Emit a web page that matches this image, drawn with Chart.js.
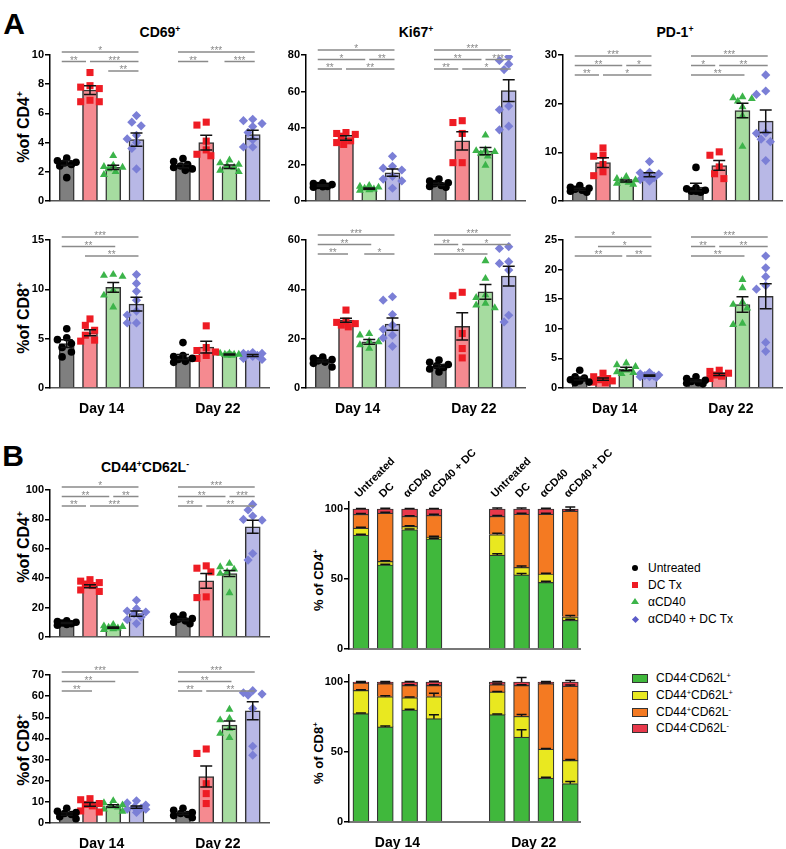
<!DOCTYPE html>
<html>
<head>
<meta charset="utf-8">
<title>T cell activation markers</title>
<script src="https://cdn.jsdelivr.net/npm/chart.js@4.4.1/dist/chart.umd.min.js"></script>
<style>
body { margin: 0; background: #fff; font-family: "Liberation Sans", Arial, sans-serif; }
#page { position: relative; width: 786px; height: 849px; overflow: hidden; }
#page canvas { position: absolute; }
.lbl { position: absolute; font-weight: bold; white-space: nowrap; transform: translate(-50%, -50%); }
.ytitle { position: absolute; font-weight: bold; white-space: nowrap; transform: translate(-50%, -50%) rotate(-90deg); }
sup { font-size: 62%; vertical-align: 0.6em; line-height: 0; }
.leg { position: absolute; font-size: 12px; height: 16px; line-height: 16px; white-space: nowrap; }
.mk { position: absolute; }
.box { position: absolute; width: 14px; height: 7px; border: 1px solid #333; }
</style>
</head>
<body>
<div id="page">
  <div class="lbl" style="left:14px;top:24px;font-size:30px">A</div>
  <div class="lbl" style="left:13px;top:456px;font-size:30px">B</div>
  <div class="lbl" style="left:160px;top:32px;font-size:14px">CD69<sup>+</sup></div>
  <div class="lbl" style="left:416px;top:32px;font-size:14px">Ki67<sup>+</sup></div>
  <div class="lbl" style="left:675px;top:32px;font-size:14px">PD-1<sup>+</sup></div>
  <div class="lbl" style="left:145px;top:467px;font-size:14px">CD44<sup>+</sup>CD62L<sup>-</sup></div>

  <div class="ytitle" style="left:24px;top:127px;font-size:16px">%of CD4<sup>+</sup></div>
  <div class="ytitle" style="left:24px;top:318px;font-size:16px">%of CD8<sup>+</sup></div>
  <div class="ytitle" style="left:24px;top:547px;font-size:16px">%of CD4<sup>+</sup></div>
  <div class="ytitle" style="left:24px;top:750px;font-size:16px">%of CD8<sup>+</sup></div>
  <div class="ytitle" style="left:318px;top:580px;font-size:13px">% of CD4<sup>+</sup></div>
  <div class="ytitle" style="left:318px;top:753px;font-size:13px">% of CD8<sup>+</sup></div>

  <div class="mk" style="left:632px;top:565px;width:6px;height:6px;border-radius:50%;background:#000"></div>
  <div class="leg" style="left:648px;top:560px">Untreated</div>
  <div class="mk" style="left:632px;top:582px;width:6px;height:6px;background:#ee1c24"></div>
  <div class="leg" style="left:648px;top:577px">DC Tx</div>
  <div class="mk" style="left:631px;top:598px;width:0;height:0;border-left:4px solid transparent;border-right:4px solid transparent;border-bottom:6px solid #3cb44a"></div>
  <div class="leg" style="left:648px;top:594px">αCD40</div>
  <div class="mk" style="left:633px;top:617px;width:5px;height:5px;background:#5a5ac8;transform:rotate(45deg)"></div>
  <div class="leg" style="left:648px;top:611px">αCD40 + DC Tx</div>

  <div class="box" style="left:632px;top:674px;background:#40b83c"></div>
  <div class="leg" style="left:656px;top:670px">CD44<sup>-</sup>CD62L<sup>+</sup></div>
  <div class="box" style="left:632px;top:691px;background:#e9e820"></div>
  <div class="leg" style="left:656px;top:687px">CD44<sup>+</sup>CD62L<sup>+</sup></div>
  <div class="box" style="left:632px;top:708px;background:#f47a22"></div>
  <div class="leg" style="left:656px;top:704px">CD44<sup>+</sup>CD62L<sup>-</sup></div>
  <div class="box" style="left:632px;top:724px;background:#e8394b"></div>
  <div class="leg" style="left:656px;top:720px">CD44<sup>-</sup>CD62L<sup>-</sup></div>
</div>

<script>
Chart.defaults.font.family = '"Liberation Sans", Arial, sans-serif';
Chart.defaults.color = '#000';

// groups: Untreated, DC Tx, aCD40, aCD40 + DC Tx at day 14, then the same at day 22
var dayLabels = ['Day 14', 'Day 22'];
var stackNames = ['Untreated', 'DC', 'αCD40', 'αCD40 + DC'];

var cd69Cd4Mean = [2.6, 7.6, 2.3, 4.2, 2.4, 4.0, 2.35, 4.55];
var cd69Cd4Sem = [0.15, 0.3, 0.15, 0.45, 0.12, 0.5, 0.12, 0.3];
var cd69Cd4Pts = [
  [2.95, 2.75, 2.65, 2.6, 2.5, 2.4, 1.6], [8.8, 7.9, 7.8, 7.7, 6.9, 6.8, 6.8],
  [3.1, 2.45, 2.35, 2.3, 2.2, 2.0, 1.8], [5.85, 5.4, 5.15, 4.5, 4.25, 4.0, 3.6, 2.2],
  [2.9, 2.7, 2.5, 2.4, 2.3, 2.2, 2.1], [5.4, 5.2, 4.1, 3.5, 3.2, 3.1],
  [2.8, 2.6, 2.5, 2.4, 2.3, 2.1, 2.0], [5.6, 5.5, 5.3, 5.1, 4.7, 4.2, 3.7, 3.7]
];
var cd69Cd4Sig = [[0, 3, 0, '*'], [0, 1, 1, '**'], [1, 3, 1, '***'], [2, 3, 2, '**'],
  [4, 7, 0, '***'], [4, 5, 1, '**'], [6, 7, 1, '***']];

var ki67Cd4Mean = [8.5, 34.5, 6.8, 15.5, 9.1, 33, 27.3, 60.5];
var ki67Cd4Sem = [0.4, 1.2, 0.3, 2.0, 0.6, 5.0, 2.0, 6.0];
var ki67Cd4Pts = [
  [10, 9.5, 9, 8.5, 8, 7.8, 7.5], [37.5, 37, 36.5, 35.5, 33, 32, 31],
  [8.5, 8, 7.5, 7, 6.5, 6, 5.8], [24.5, 19, 18, 17, 13.5, 12, 11, 7],
  [12, 11, 10, 9.5, 8.5, 8, 7.5], [44, 43, 37, 21, 21],
  [36, 28, 27.5, 27, 26, 24.5, 19.5], [79, 77, 75, 72, 52, 50, 41, 39]
];
var ki67Cd4Sig = [[0, 3, 0, '*'], [0, 2, 1, '*'], [2, 3, 1, '**'], [0, 1, 2, '**'], [1, 3, 2, '**'],
  [4, 7, 0, '***'], [4, 6, 1, '**'], [6, 7, 1, '***'], [4, 5, 2, '**'], [5, 7, 2, '*']];

var pd1Cd4Mean = [2.4, 7.9, 4.1, 5.4, 2.85, 7.3, 18.6, 16.4];
var pd1Cd4Sem = [0.2, 1.0, 0.2, 0.4, 0.8, 1.0, 1.5, 2.3];
var pd1Cd4Pts = [
  [3.2, 2.8, 2.6, 2.4, 2.2, 2.0, 1.8], [10.9, 9.4, 9.2, 7.5, 6.0, 5.2],
  [5.0, 4.6, 4.3, 4.1, 3.8, 3.6, 3.4], [8.1, 5.9, 5.8, 5.6, 5.0, 4.8, 4.4, 4.1],
  [6.9, 2.7, 2.5, 2.2, 2.0, 1.8, 2.0], [10.1, 9.4, 7.0, 5.6, 4.6],
  [21.4, 21.2, 21.0, 20.5, 19.3, 17.5, 11.2], [25.9, 22.6, 21.9, 14.0, 13.9, 12.7, 12.2, 8.3]
];
var pd1Cd4Sig = [[0, 3, 0, '***'], [0, 2, 1, '**'], [2, 3, 1, '*'], [0, 1, 2, '**'], [1, 3, 2, '*'],
  [4, 7, 0, '***'], [4, 5, 1, '*'], [5, 7, 1, '**'], [4, 6, 2, '**']];

var cd69Cd8Mean = [4.5, 5.6, 10.2, 8.5, 3.15, 4.15, 3.4, 3.3];
var cd69Cd8Sem = [0.4, 0.3, 0.5, 0.7, 0.25, 0.6, 0.05, 0.1];
var cd69Cd8Pts = [
  [6.0, 5.1, 4.9, 4.5, 4.1, 3.65, 3.15], [7.0, 6.35, 5.85, 5.35, 4.85, 4.75],
  [11.5, 11.4, 11.3, 9.9, 9.4, 8.2], [11.5, 10.6, 9.8, 8.9, 7.8, 7.4, 6.6, 6.6],
  [4.6, 3.3, 3.2, 3.0, 2.9, 2.7, 2.6], [6.3, 4.1, 3.8, 3.65, 3.3, 3.0],
  [3.5, 3.5, 3.4, 3.4, 3.4, 3.3, 3.3], [3.6, 3.5, 3.5, 3.4, 3.3, 3.2, 3.0, 2.9]
];
var cd69Cd8Sig = [[0, 3, 0, '***'], [0, 2, 1, '**'], [1, 3, 2, '**']];

var ki67Cd8Mean = [11, 27.5, 18.7, 25.9, 8.9, 25, 39, 45.4];
var ki67Cd8Sem = [0.5, 0.8, 1.0, 2.5, 0.6, 5.5, 3.0, 4.0];
var ki67Cd8Pts = [
  [12.5, 12, 11.5, 11, 10.5, 10, 8.5], [31.6, 27.1, 26.6, 26.1, 25.5, 24.8],
  [22, 21.4, 19, 18.7, 17.5, 16], [37, 35.6, 29.8, 25.5, 23.8, 21.4, 20.3, 16.9],
  [11.3, 10.4, 9.5, 9, 8.3, 7.7, 6.5], [38.8, 37.4, 22.1, 16, 12.2],
  [51.5, 44.4, 37.7, 36.6, 34.3, 33.6, 32.5], [57.3, 56.6, 51.2, 50.5, 47.8, 29.5, 26.8]
];
var ki67Cd8Sig = [[0, 3, 0, '***'], [0, 2, 1, '**'], [0, 1, 2, '**'], [2, 3, 2, '*'],
  [4, 7, 0, '***'], [4, 5, 1, '**'], [5, 7, 1, '*'], [4, 6, 2, '**']];

var pd1Cd8Mean = [1.6, 1.5, 3.2, 2.1, 1.2, 2.3, 14.1, 15.5];
var pd1Cd8Sem = [0.25, 0.2, 0.3, 0.1, 0.15, 0.2, 1.3, 2.1];
var pd1Cd8Pts = [
  [3.0, 1.9, 1.7, 1.4, 1.2, 1.0, 0.9], [2.5, 1.9, 1.6, 1.4, 1.2, 1.0, 0.9],
  [4.2, 3.9, 3.6, 3.0, 2.7, 2.6, 2.4], [2.6, 2.4, 2.2, 2.1, 2.0, 1.9, 1.9, 1.8],
  [1.9, 1.6, 1.3, 1.1, 0.9, 0.8, 0.7], [3.0, 2.8, 2.5, 2.2, 2.0, 1.6],
  [18.3, 16.9, 14.5, 14.1, 13.5, 10.9, 10.7], [22.3, 20.3, 18.8, 17.3, 16.7, 7.7, 6.2]
];
var pd1Cd8Sig = [[0, 3, 0, '*'], [1, 3, 1, '*'], [0, 2, 2, '**'], [2, 3, 2, '**'],
  [4, 7, 0, '***'], [4, 5, 1, '**'], [5, 7, 1, '**'], [4, 6, 2, '**']];

var cd44Cd4Mean = [9.5, 34.5, 6.4, 15.9, 11.8, 38.2, 43.2, 75];
var cd44Cd4Sem = [0.4, 1.0, 0.4, 1.8, 0.7, 5.0, 2.0, 4.5];
var cd44Cd4Pts = [
  [11, 10.5, 10, 9.5, 9, 8.5, 8], [39, 38, 37, 36, 35, 32, 31],
  [8.5, 7.5, 7, 6.5, 6, 5.5, 5], [25, 19.3, 17.7, 17, 15.9, 13.6, 11.8, 9.1],
  [15, 14, 12.5, 12, 11, 10, 9], [48.4, 46.8, 44.3, 27.3, 26.8],
  [50, 47.7, 46.1, 44.3, 43.2, 30], [90.2, 86.4, 82.3, 80, 79.5, 56.8, 52.3]
];
var cd44Cd4Sig = [[0, 3, 0, '*'], [0, 2, 1, '**'], [2, 3, 1, '**'], [0, 1, 2, '**'], [1, 3, 2, '***'],
  [4, 7, 0, '***'], [4, 6, 1, '**'], [6, 7, 1, '***'], [4, 5, 2, '**'], [5, 7, 2, '**']];

var cd44Cd8Mean = [4.3, 8.8, 8.0, 7.5, 4.5, 22, 46.3, 53.1];
var cd44Cd8Sem = [0.6, 0.9, 0.6, 0.5, 0.5, 5.0, 2.0, 4.3];
var cd44Cd8Pts = [
  [7, 5.5, 5, 4.5, 4, 3, 2], [11.5, 11, 9.2, 8.8, 8.1, 5.7, 5.2],
  [10.5, 9.5, 8.5, 8, 7.5, 6.5, 5.5], [10.5, 9.5, 8.5, 7.5, 7, 6.5, 6.5, 5],
  [7, 6, 5, 4.5, 4, 3.5, 2.5], [35, 32.9, 18.6, 13.9, 9.2],
  [53.7, 49.4, 48.7, 44.7, 42.3, 40.3], [62.6, 61.6, 61, 60.5, 54.2, 36.3, 32.1]
];
var cd44Cd8Sig = [[0, 3, 0, '***'], [0, 2, 1, '**'], [0, 1, 2, '**'],
  [4, 7, 0, '***'], [4, 6, 1, '**'], [4, 5, 2, '**'], [5, 7, 2, '**']];

// stacked subsets: CD44-CD62L+, CD44+CD62L+, CD44+CD62L-, CD44-CD62L-
var cd4Green = [81.4, 60, 85.2, 78.6, 67.1, 52.9, 47.6, 20.5];
var cd4Yellow = [5, 2.6, 2.4, 1.4, 14.6, 5.4, 6.0, 2.5];
var cd4Orange = [9.8, 34.5, 7.2, 15.5, 13.1, 38.1, 42.8, 75.5];
var cd4Red = [3.8, 2.9, 5.2, 4.5, 5.2, 3.6, 3.6, 1.5];
var cd4SemGreen = [0.5, 0.5, 0.5, 0.5, 1, 1, 0.8, 0.8];
var cd4SemYellow = [0.5, 0.5, 0.5, 0.5, 1, 1, 0.5, 1];
var cd4SemOrange = [0.5, 0.5, 0.3, 0.8, 0.5, 0.5, 0.5, 0.8];
var cd4SemRed = [0.3, 0.5, 0.3, 0.3, 0.8, 0.8, 0.5, 1.5];

var cd8Green = [77.4, 67.9, 80, 73.8, 76.7, 60.7, 31.4, 27.4];
var cd8Yellow = [16.6, 21.6, 8.8, 15.7, 16.2, 14.8, 20.7, 16.6];
var cd8Orange = [5.3, 9.3, 8.8, 8.1, 5.2, 22.1, 46.7, 53.1];
var cd8Red = [0.7, 1.2, 2.4, 2.4, 1.9, 2.4, 1.2, 2.9];
var cd8SemGreen = [0.5, 0.7, 0.5, 2.8, 0.5, 5.2, 0.5, 1.5];
var cd8SemYellow = [0.5, 0.6, 0.5, 2.5, 0.4, 1.2, 0.4, 0.7];
var cd8SemOrange = [0.5, 0.5, 0.5, 0.5, 0.5, 0.5, 0.5, 0.7];
var cd8SemRed = [0.3, 0.3, 0.3, 0.5, 0.3, 3.3, 0.4, 1];

// styles
var barFill = ['#7f7f7f', '#f58a90', '#a6dca0', '#b8b8e6'];
var ptColor = ['#000000', '#ee1c24', '#3cb44a', '#7b7fd6'];
var ptStyle = ['circle', 'rect', 'triangle', 'rectRot'];
var ptRadius = [3.8, 5, 4.6, 4.6];
var segColor = ['#40b83c', '#e9e820', '#f47a22', '#e8394b'];

var xMin = -0.72, xMax = 8.7;
function dotPos(i) { return i < 4 ? i : i + 1; }
function stackPos(i) { return i < 4 ? i : i + 1.6; }

function addCanvas(left, top, w, h) {
  var c = document.createElement('canvas');
  c.width = w; c.height = h;
  c.style.left = left + 'px'; c.style.top = top + 'px';
  c.style.width = w + 'px'; c.style.height = h + 'px';
  document.getElementById('page').appendChild(c);
  return c;
}

// simple beeswarm: spread points sideways when they would overlap
function swarm(vals, ppuX, ppuY) {
  var cands = [0, -0.2, 0.2, -0.4, 0.4, -0.1, 0.1, -0.3, 0.3];
  var placed = [];
  return vals.map(function (v) {
    var py = v * ppuY, best = 0, bestD = -1;
    for (var k = 0; k < cands.length; k++) {
      var d = placed.reduce(function (m, p) {
        return Math.min(m, Math.hypot((p.c - cands[k]) * ppuX, p.py - py));
      }, 99);
      if (d >= 7) { best = cands[k]; break; }
      if (d > bestD) { bestD = d; best = cands[k]; }
    }
    placed.push({ c: best, py: py });
    return best;
  });
}

function errPlugin(mean, sem) {
  return {
    id: 'err',
    afterDatasetsDraw: function (chart) {
      var ctx = chart.ctx, xs = chart.scales.x, ys = chart.scales.y;
      ctx.save();
      ctx.strokeStyle = '#111';
      ctx.lineWidth = 1.5;
      mean.forEach(function (m, i) {
        var x = xs.getPixelForValue(dotPos(i));
        var y1 = ys.getPixelForValue(m + sem[i]), y2 = ys.getPixelForValue(m - sem[i]);
        ctx.beginPath();
        ctx.moveTo(x, y1); ctx.lineTo(x, y2);
        ctx.moveTo(x - 6, y1); ctx.lineTo(x + 6, y1);
        ctx.moveTo(x - 6, y2); ctx.lineTo(x + 6, y2);
        ctx.stroke();
      });
      ctx.restore();
    }
  };
}

function bracketPlugin(list, shift) {
  return {
    id: 'brackets',
    afterDraw: function (chart) {
      var ctx = chart.ctx, xs = chart.scales.x, top = chart.chartArea.top;
      ctx.save();
      ctx.strokeStyle = '#8a8a8a';
      ctx.fillStyle = '#8a8a8a';
      ctx.lineWidth = 1.5;
      ctx.font = '10px "Liberation Sans", Arial, sans-serif';
      ctx.textAlign = 'center';
      ctx.textBaseline = 'alphabetic';
      list.forEach(function (b) {
        var before = list.some(function (o) { return o !== b && o[2] === b[2] && o[1] === b[0]; });
        var after = list.some(function (o) { return o !== b && o[2] === b[2] && o[0] === b[1]; });
        var x1 = xs.getPixelForValue(dotPos(b[0])) + (before ? 0 : -5);
        var x2 = xs.getPixelForValue(dotPos(b[1])) + (after ? -4 : 2);
        var y = top - 3 + shift + b[2] * 9.5;
        ctx.beginPath();
        ctx.moveTo(x1, y); ctx.lineTo(x2, y);
        ctx.stroke();
        ctx.fillText(b[3], (x1 + x2) / 2, y + 2);
      });
      ctx.restore();
    }
  };
}

var xh = 40;   // room under each x axis for the day labels

function dayAxisTicks(show) {
  return {
    display: show, padding: 5, maxRotation: 0, autoSkip: false,
    font: { size: 14, weight: 'bold' },
    callback: function (v, i) { return dayLabels[i]; }
  };
}

function dotPanel(cfg) {
  var padTop = 36, yw = 40;
  var c = addCanvas(cfg.left - yw, cfg.top - padTop, cfg.w + yw + 2, cfg.h + padTop + xh);
  var ppuX = cfg.w / (xMax - xMin), ppuY = cfg.h / cfg.ymax;
  var datasets = [{
    type: 'bar',
    data: cfg.mean.map(function (m, i) { return { x: dotPos(i), y: m }; }),
    backgroundColor: cfg.mean.map(function (m, i) { return barFill[i % 4]; }),
    borderColor: '#333',
    borderWidth: 1.5,
    barThickness: 15,
    order: 3
  }];
  for (var g = 0; g < 4; g++) {
    var pts = [];
    [g, g + 4].forEach(function (i) {
      var offs = swarm(cfg.pts[i], ppuX, ppuY);
      cfg.pts[i].forEach(function (v, k) { pts.push({ x: dotPos(i) + offs[k], y: v }); });
    });
    datasets.push({
      type: 'scatter',
      data: pts,
      pointStyle: ptStyle[g],
      pointRadius: ptRadius[g],
      pointBackgroundColor: ptColor[g],
      pointBorderColor: ptColor[g],
      pointBorderWidth: 0,
      order: 1
    });
  }
  new Chart(c, {
    type: 'bar',
    data: { datasets: datasets },
    options: {
      responsive: false,
      animation: false,
      devicePixelRatio: 1,
      layout: { padding: { top: padTop, left: 0, right: 2, bottom: 0 } },
      plugins: { legend: { display: false }, tooltip: { enabled: false } },
      scales: {
        x: {
          type: 'linear', min: xMin, max: xMax, offset: false,
          afterFit: function (s) { s.height = xh; },
          afterBuildTicks: function (s) { s.ticks = [1.5, 6.5].map(function (v) { return { value: v }; }); },
          grid: { display: false },
          border: { color: '#555', width: 1.5 },
          ticks: dayAxisTicks(!!cfg.days)
        },
        y: {
          min: 0, max: cfg.ymax,
          afterFit: function (s) { s.width = yw; },
          ticks: { stepSize: cfg.step, padding: 1, font: { size: 11, weight: 'bold' } },
          grid: { drawOnChartArea: false, tickLength: 5, tickColor: '#000', lineWidth: 1.5 },
          border: { color: '#000', width: 1.5 }
        }
      }
    },
    plugins: [errPlugin(cfg.mean, cfg.sem), bracketPlugin(cfg.sig, cfg.shift || 0)]
  });
}

function stackErrPlugin(segs, sems) {
  return {
    id: 'stackErr',
    afterDatasetsDraw: function (chart) {
      var ctx = chart.ctx, xs = chart.scales.x, ys = chart.scales.y;
      ctx.save();
      ctx.strokeStyle = '#111';
      ctx.lineWidth = 1.5;
      for (var i = 0; i < segs[0].length; i++) {
        var cum = 0, x = xs.getPixelForValue(stackPos(i));
        for (var s = 0; s < segs.length; s++) {
          cum += segs[s][i];
          var y1 = ys.getPixelForValue(cum), y2 = ys.getPixelForValue(cum + sems[s][i]);
          ctx.beginPath();
          ctx.moveTo(x, y1); ctx.lineTo(x, y2);
          ctx.moveTo(x - 5, y2); ctx.lineTo(x + 5, y2);
          ctx.stroke();
        }
      }
      ctx.restore();
    }
  };
}

function namePlugin(names) {
  return {
    id: 'names',
    afterDraw: function (chart) {
      var ctx = chart.ctx, xs = chart.scales.x, top = chart.chartArea.top;
      ctx.save();
      ctx.fillStyle = '#000';
      ctx.font = 'bold 11px "Liberation Sans", Arial, sans-serif';
      ctx.textAlign = 'left';
      ctx.textBaseline = 'alphabetic';
      for (var i = 0; i < 8; i++) {
        ctx.save();
        ctx.translate(xs.getPixelForValue(stackPos(i)) - 2, top - 4);
        ctx.rotate(-Math.PI / 4);
        ctx.fillText(names[i % 4], 0, 0);
        ctx.restore();
      }
      ctx.restore();
    }
  };
}

function stackPanel(cfg) {
  var padTop = cfg.padTop, yw = 40, padRight = 58;
  var c = addCanvas(cfg.left - yw, cfg.top - padTop, cfg.w + yw + padRight, cfg.h + padTop + xh);
  var datasets = cfg.segs.map(function (seg, s) {
    return {
      data: seg.map(function (v, i) { return { x: stackPos(i), y: v }; }),
      backgroundColor: segColor[s],
      borderColor: '#333',
      borderWidth: 1.2,
      barThickness: 16
    };
  });
  var plugins = [stackErrPlugin(cfg.segs, cfg.sems)];
  if (cfg.names) plugins.push(namePlugin(cfg.names));
  new Chart(c, {
    type: 'bar',
    data: { datasets: datasets },
    options: {
      responsive: false,
      animation: false,
      devicePixelRatio: 1,
      layout: { padding: { top: padTop, left: 0, right: padRight, bottom: 0 } },
      plugins: { legend: { display: false }, tooltip: { enabled: false } },
      scales: {
        x: {
          type: 'linear', stacked: true, min: -0.49, max: 9.0, offset: false,
          afterFit: function (s) { s.height = xh; },
          afterBuildTicks: function (s) {
            s.ticks = [(stackPos(0) + stackPos(3)) / 2, (stackPos(4) + stackPos(7)) / 2].map(function (v) { return { value: v }; });
          },
          grid: { display: false },
          border: { color: '#777', width: 2 },
          ticks: dayAxisTicks(!!cfg.days)
        },
        y: {
          stacked: true, min: 0, max: 105,
          afterFit: function (s) { s.width = yw; },
          afterBuildTicks: function (s) { s.ticks = [0, 50, 100].map(function (v) { return { value: v }; }); },
          ticks: { padding: 1, font: { size: 11, weight: 'bold' } },
          grid: { drawOnChartArea: false, tickLength: 5, tickColor: '#000', lineWidth: 1.5 },
          border: { color: '#000', width: 1.5 }
        }
      }
    },
    plugins: plugins
  });
}

var colA = 50, colB = 306, colC = 563, colW = 222;

dotPanel({ left: colA, top: 55, w: colW, h: 146, ymax: 10, step: 2, mean: cd69Cd4Mean, sem: cd69Cd4Sem, pts: cd69Cd4Pts, sig: cd69Cd4Sig });
dotPanel({ left: colB, top: 55, w: colW, h: 146, ymax: 80, step: 20, mean: ki67Cd4Mean, sem: ki67Cd4Sem, pts: ki67Cd4Pts, sig: ki67Cd4Sig, shift: -2 });
dotPanel({ left: colC, top: 55, w: colW, h: 146, ymax: 30, step: 10, mean: pd1Cd4Mean, sem: pd1Cd4Sem, pts: pd1Cd4Pts, sig: pd1Cd4Sig, shift: 4 });

dotPanel({ left: colA, top: 240, w: colW, h: 148, ymax: 15, step: 5, mean: cd69Cd8Mean, sem: cd69Cd8Sem, pts: cd69Cd8Pts, sig: cd69Cd8Sig, days: true });
dotPanel({ left: colB, top: 240, w: colW, h: 148, ymax: 60, step: 20, mean: ki67Cd8Mean, sem: ki67Cd8Sem, pts: ki67Cd8Pts, sig: ki67Cd8Sig, days: true, shift: -2 });
dotPanel({ left: colC, top: 240, w: colW, h: 148, ymax: 25, step: 5, mean: pd1Cd8Mean, sem: pd1Cd8Sem, pts: pd1Cd8Pts, sig: pd1Cd8Sig, days: true });

dotPanel({ left: colA, top: 490, w: colW, h: 147, ymax: 100, step: 20, mean: cd44Cd4Mean, sem: cd44Cd4Sem, pts: cd44Cd4Pts, sig: cd44Cd4Sig });
dotPanel({ left: colA, top: 675, w: colW, h: 148, ymax: 70, step: 10, mean: cd44Cd8Mean, sem: cd44Cd8Sem, pts: cd44Cd8Pts, sig: cd44Cd8Sig, days: true });

stackPanel({
  left: 349, top: 502, w: 231, h: 147, padTop: 62, names: stackNames,
  segs: [cd4Green, cd4Yellow, cd4Orange, cd4Red],
  sems: [cd4SemGreen, cd4SemYellow, cd4SemOrange, cd4SemRed]
});
stackPanel({
  left: 349, top: 675, w: 231, h: 147, padTop: 20, days: true,
  segs: [cd8Green, cd8Yellow, cd8Orange, cd8Red],
  sems: [cd8SemGreen, cd8SemYellow, cd8SemOrange, cd8SemRed]
});
</script>
</body>
</html>
